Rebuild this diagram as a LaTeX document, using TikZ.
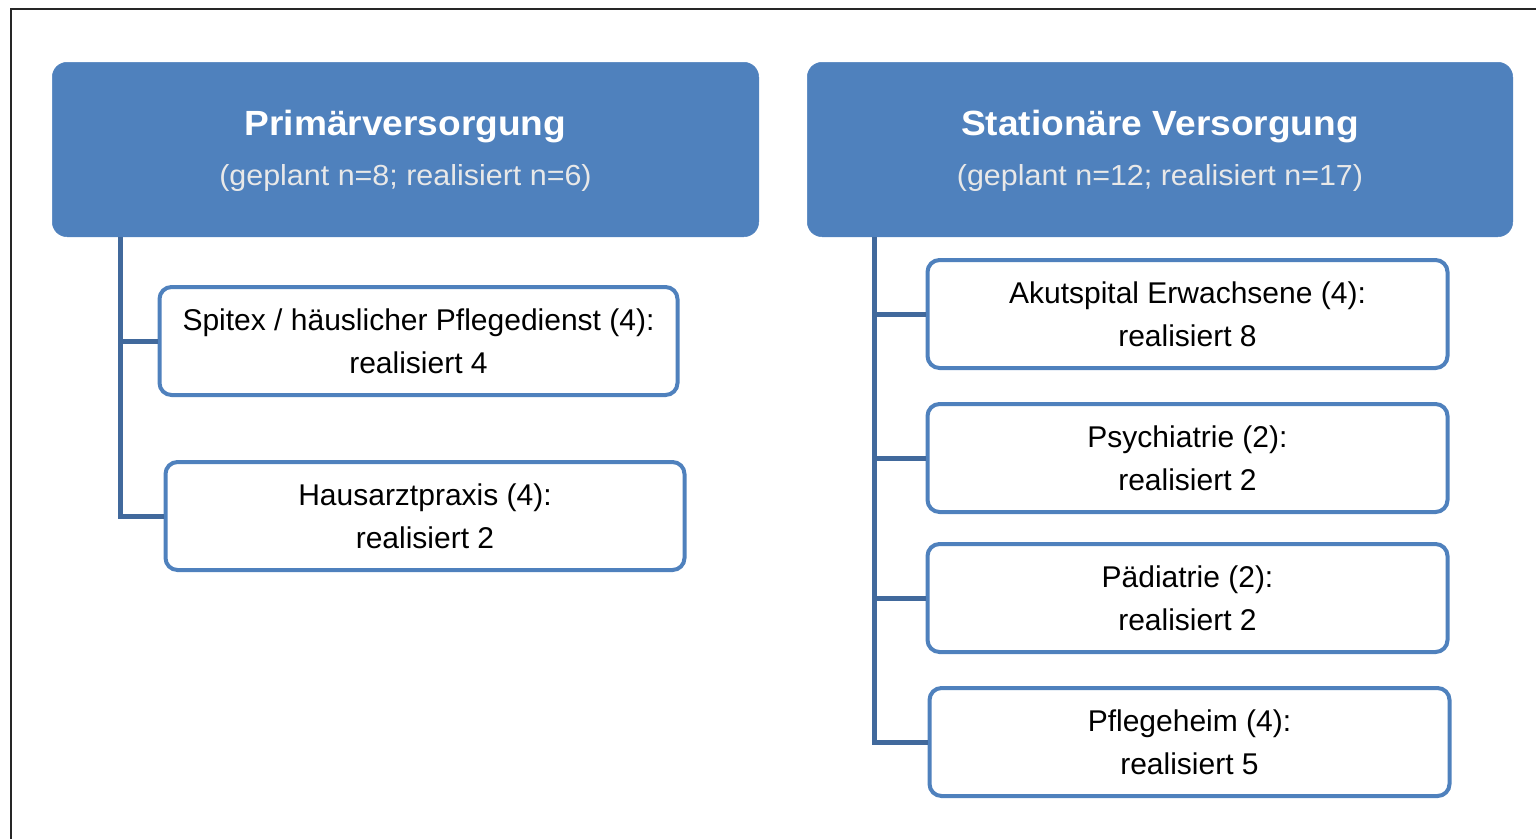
\documentclass[tikz,border=0pt]{standalone}
\usepackage{fontspec}
\setmainfont{Liberation Sans}
\newfontfamily\titlefont[FakeStretch=1.06]{Liberation Sans Bold}
\newfontfamily\subfont[FakeStretch=1.05]{Liberation Sans}
\definecolor{hdrblue}{HTML}{4F81BD}
\definecolor{connblue}{HTML}{41699C}
\definecolor{subgray}{HTML}{E8E8E8}
\tikzset{
  header/.style={fill=hdrblue, draw=hdrblue, line width=0.5pt, rounded corners=15pt, inner sep=0pt, minimum height=174.5pt},
  titletxt/.style={text=white, font=\titlefont\fontsize{35}{40}\selectfont, inner sep=0pt, anchor=base},
  subtxt/.style={text=subgray, font=\subfont\fontsize{29}{34}\selectfont, inner sep=0pt, anchor=base},
  child/.style={draw=hdrblue, line width=4pt, fill=white, rounded corners=12pt, minimum height=108pt, align=center, inner sep=0pt, text=black, font=\fontsize{30}{43}\selectfont},
  conn/.style={draw=connblue, line width=5pt}
}
\begin{document}
\begin{tikzpicture}[x=1pt,y=-1pt]
\useasboundingbox (0,0) rectangle (1536,839);
% frame
\coordinate (fa) at (1536,8.5);
\coordinate (fb) at (10.5,8.5);
\coordinate (fc) at (10.5,839);
\draw[line width=2pt, black!85] (fa) -- (fb) -- (fc);

% headers
\node[header, minimum width=706.5pt] (hL) at (405.5,149.5) {};
\node[header, minimum width=705.5pt] (hR) at (1160,149.5) {};
\node[titletxt] (tL) at (405.5,135) {Primärversorgung};
\node[subtxt] (sL) at (405.5,185) {(geplant n=8; realisiert n=6)};
\node[titletxt] (tR) at (1160,135) {Stationäre Versorgung};
\node[subtxt] (sR) at (1160,185) {(geplant n=12; realisiert n=17)};

% trunks
\coordinate (trL) at (120,237);
\coordinate (trR) at (874,237);

% left children
\node[child, minimum width=518pt] (c1) at (418.5,341) {Spitex / häuslicher Pflegedienst (4):\\realisiert 4};
\node[child, minimum width=519pt] (c2) at (425,516) {Hausarztpraxis (4):\\realisiert 2};

% right children
\node[child, minimum width=520pt] (r1) at (1187.5,314) {Akutspital Erwachsene (4):\\realisiert 8};
\node[child, minimum width=520pt] (r2) at (1187.5,458) {Psychiatrie (2):\\realisiert 2};
\node[child, minimum width=520pt] (r3) at (1187.5,598) {Pädiatrie (2):\\realisiert 2};
\node[child, minimum width=520pt] (r4) at (1189.5,742) {Pflegeheim (4):\\realisiert 5};

% connectors
\draw[conn] (trL) |- (c2.west);
\draw[conn] (trL |- c1.west) -- (c1.west);
\draw[conn] (trR) |- (r4.west);
\draw[conn] (trR |- r1.west) -- (r1.west);
\draw[conn] (trR |- r2.west) -- (r2.west);
\draw[conn] (trR |- r3.west) -- (r3.west);
\end{tikzpicture}
\end{document}
